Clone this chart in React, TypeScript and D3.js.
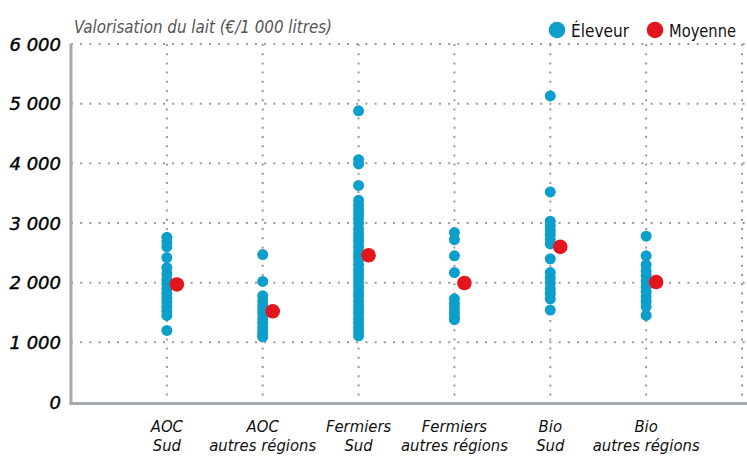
import React from "react";
import * as d3 from "d3";

const categories = [
  ["AOC", "Sud"],
  ["AOC", "autres régions"],
  ["Fermiers", "Sud"],
  ["Fermiers", "autres régions"],
  ["Bio", "Sud"],
  ["Bio", "autres régions"],
];

const aocSud = [2760, 2680, 2600, 2420, 2250, 2150, 2050, 1980, 1900, 1820, 1750, 1680, 1600, 1530, 1450, 1200];
const aocAutres = [2470, 2020, 1780, 1700, 1620, 1550, 1480, 1400, 1330, 1250, 1180, 1120, 1090];
const fermiersSud = [4880, 4060, 3990, 3630, 3380, 3300, 3220, 3150, 3080, 3000, 2900, 2820, 2750, 2680, 2600, 2520, 2450, 2380, 2300, 2220, 2150, 2080, 2000, 1930, 1850, 1780, 1700, 1620, 1550, 1480, 1400, 1330, 1250, 1180, 1110];
const fermiersAutres = [2840, 2720, 2450, 2170, 1730, 1650, 1580, 1500, 1420, 1380];
const bioSud = [5130, 3520, 3030, 2950, 2870, 2800, 2720, 2650, 2400, 2170, 2080, 2000, 1900, 1820, 1730, 1540];
const bioAutres = [2780, 2450, 2300, 2200, 2120, 2020, 1930, 1850, 1760, 1680, 1600, 1450];

const eleveurs = [aocSud, aocAutres, fermiersSud, fermiersAutres, bioSud, bioAutres];
const moyennes = [1970, 1520, 2460, 1995, 2600, 2010];

const yTicks = [0, 1000, 2000, 3000, 4000, 5000, 6000];
const yTickLabels = ["0", "1 000", "2 000", "3 000", "4 000", "5 000", "6 000"];

const BLUE = "#0d9fcb";
const RED = "#e3161d";
const GRID = "#9a9a9a";
const AXIS = "#a3a9ad";

export default function App() {
  const W = 747;
  const H = 460;
  const x = d3.scaleLinear().domain([0, 7]).range([71, 742]);
  const y = d3.scaleLinear().domain([0, 6000]).range([402, 44]);
  const condensed = "'DejaVu Sans Condensed', 'DejaVu Sans', sans-serif";

  return (
    <svg
      width={W}
      height={H}
      style={{ position: "absolute", left: 0, top: 0, background: "#fff" }}
    >
      {/* horizontal grid */}
      {yTicks.filter((t) => t > 0).map((t) => (
        <line
          key={"h" + t}
          x1={x(0)}
          x2={W}
          y1={y(t)}
          y2={y(t)}
          stroke={GRID}
          strokeWidth={2}
          strokeDasharray="2,7.2"
        />
      ))}
      {/* vertical grid */}
      {d3.range(1, 8).map((i) => (
        <line
          key={"v" + i}
          x1={x(i)}
          x2={x(i)}
          y1={y(6000)}
          y2={y(0)}
          stroke={GRID}
          strokeWidth={2}
          strokeDasharray="2,7.2"
        />
      ))}
      {/* axes */}
      <line x1={x(0)} x2={x(0)} y1={y(6000)} y2={y(0) + 2.5} stroke={AXIS} strokeWidth={3} />
      <line x1={x(0) - 1.5} x2={W} y1={y(0) + 1.5} y2={y(0) + 1.5} stroke={AXIS} strokeWidth={3} />

      {/* y labels */}
      {yTicks.map((t, i) => (
        <text
          key={"yl" + t}
          x={61}
          y={y(t) + 6.5}
          textAnchor="end"
          fontFamily="'DejaVu Sans', sans-serif"
          fontStyle="italic"
          fontSize={18}
          stroke="#000"
          strokeWidth={0.4}
          fill="#000"
        >
          {yTickLabels[i]}
        </text>
      ))}

      {/* title */}
      <text
        x={74}
        y={33}
        fontFamily={condensed}
        fontStyle="italic"
        fontSize={18}
        fill="#555"
        textLength={258}
        lengthAdjust="spacingAndGlyphs"
      >
        Valorisation du lait (€/1 000 litres)
      </text>

      {/* category labels */}
      {categories.map((c, i) => (
        <text
          key={"c" + i}
          textAnchor="middle"
          fontFamily={condensed}
          fontStyle="italic"
          fontSize={16.5}
          fill="#111"
        >
          <tspan x={x(i + 1)} y={432}>{c[0]}</tspan>
          <tspan x={x(i + 1)} y={451}>{c[1]}</tspan>
        </text>
      ))}

      {/* eleveur dots */}
      {eleveurs.map((vals, i) =>
        vals.map((v, j) => (
          <circle key={"e" + i + "-" + j} cx={x(i + 1)} cy={y(v)} r={5.5} fill={BLUE} />
        ))
      )}
      {/* moyenne dots */}
      {moyennes.map((v, i) => (
        <circle key={"m" + i} cx={x(i + 1) + 10} cy={y(v)} r={7.3} fill={RED} />
      ))}

      {/* legend */}
      <circle cx={557} cy={30} r={8.3} fill={BLUE} />
      <text
        x={571}
        y={37}
        fontFamily={condensed}
        fontSize={18}
        fill="#111"
        textLength={58}
        lengthAdjust="spacingAndGlyphs"
      >
        Éleveur
      </text>
      <circle cx={655} cy={30} r={8.3} fill={RED} />
      <text
        x={669}
        y={37}
        fontFamily={condensed}
        fontSize={18}
        fill="#111"
        textLength={67}
        lengthAdjust="spacingAndGlyphs"
      >
        Moyenne
      </text>
    </svg>
  );
}
